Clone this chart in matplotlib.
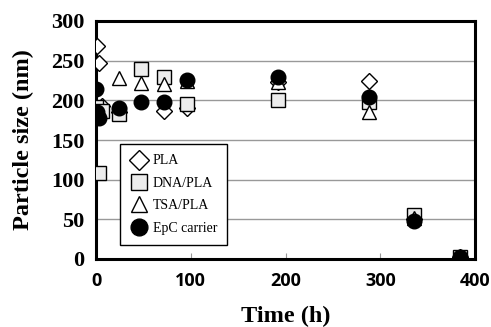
import numpy as np
import matplotlib.pyplot as plt

# data (NaN = not visible)
t = [0, 1, 3, 6, 24, 48, 72, 96, 192, 288, 336, 384]
pla = [np.nan, 268, 247, 193, 185, np.nan, 186, 190, 223, 224, 50, 2]
dna = [192, np.nan, 108, 186, 183, 240, 229, 195, 201, 198, 56, 3]
tsa = [185, np.nan, np.nan, np.nan, 228, 222, 221, 225, 223, 185, 52, 2]
epc = [214, 185, 178, np.nan, 190, 198, 198, 226, 229, 204, 48, 2]

serif = 'Liberation Serif'

fig = plt.figure(figsize=(4.91, 3.27), dpi=100)
ax = fig.add_axes([96/491, 1-259/327, 379/491, 238/327])

ms = 10
ax.plot(t, pla, 'D', ms=ms*0.85, mfc='white', mec='black', mew=1.0, label='PLA', zorder=3)
ax.plot(t, dna, 's', ms=ms, mfc='#ececec', mec='black', mew=1.0, label='DNA/PLA', zorder=3)
ax.plot(t, tsa, '^', ms=ms*1.05, mfc='white', mec='black', mew=1.0, label='TSA/PLA', zorder=3)
ax.plot(t, epc, 'o', ms=ms*1.05, mfc='black', mec='black', label='EpC carrier', zorder=4)

ax.set_xlim(0, 400)
ax.set_ylim(0, 300)
ax.set_xticks([0, 100, 200, 300, 400])
ax.set_yticks(np.arange(0, 301, 50))
ax.yaxis.grid(True, color='#999999', lw=1.0)
ax.set_axisbelow(True)
for s in ax.spines.values():
    s.set_linewidth(2.2)
    s.set_color('black')

ax.tick_params(axis='x', direction='in', length=4, color='#999999', pad=9)
ax.tick_params(axis='y', length=0, pad=8.5)
for lab in ax.get_xticklabels():
    lab.set_fontfamily('Open Sans')
    lab.set_fontweight('bold')
    lab.set_fontsize(13)
for lab in ax.get_yticklabels():
    lab.set_fontfamily(serif)
    lab.set_fontweight('bold')
    lab.set_fontsize(16)

ax.set_xlabel('Time (h)', fontfamily=serif, fontweight='bold', fontsize=17.5, labelpad=12)
ax.set_ylabel('Particle size (nm)', fontfamily=serif, fontweight='bold', fontsize=17.5, labelpad=12)

leg = ax.legend(loc='upper left', bbox_to_anchor=(24/379, 115/238), prop={'family': serif, 'size': 10},
                frameon=True, fancybox=False, edgecolor='black', framealpha=1, markerscale=1.15,
                handletextpad=0.4, handlelength=1.2, borderpad=0.75, labelspacing=0.68, borderaxespad=0)
leg.get_frame().set_linewidth(1.0)

fig.savefig('out.png', dpi=100)
